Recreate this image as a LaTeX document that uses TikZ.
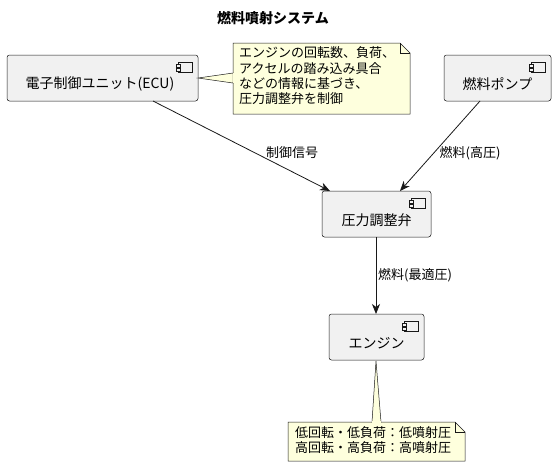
\documentclass[tikz,border=0pt]{standalone}
\usepackage{fontspec}
\setmainfont{Noto Sans CJK JP}
\usetikzlibrary{arrows.meta}
\definecolor{compfill}{HTML}{F1F1F1}
\definecolor{linec}{HTML}{181818}
\definecolor{notefill}{HTML}{FEFFDD}
\tikzset{
  comp/.style={draw=linec, fill=compfill, rounded corners=2.5pt, line width=0.5pt},
  ctext/.style={font=\fontsize{14}{16}\selectfont, text=black, inner sep=0pt},
  ltext/.style={font=\fontsize{13}{15}\selectfont, text=black, inner sep=0pt},
  notec/.style={draw=linec, fill=notefill, line width=0.5pt},
  ntext/.style={font=\fontsize{13}{15.4}\selectfont, text=black, inner sep=0pt, align=left, anchor=north west},
  conn/.style={draw=linec, line width=0.8pt, -{Stealth[length=10pt,width=8pt,inset=3pt]}},
}
\newcommand{\compicon}[2]{% right x, top y
  \draw[linec, fill=compfill, line width=0.5pt] (#1-20,#2+7) rectangle (#1-6,#2+17);
  \draw[linec, fill=compfill, line width=0.5pt] (#1-22,#2+9) rectangle (#1-18,#2+12);
  \draw[linec, fill=compfill, line width=0.5pt] (#1-22,#2+13) rectangle (#1-18,#2+16);
}
\begin{document}
\begin{tikzpicture}[x=1pt,y=-1pt]
\useasboundingbox (0,0) rectangle (559,467);
% title
\node[font=\fontsize{14}{16}\selectfont\bfseries, inner sep=0pt] (title) at (273,18) {燃料噴射システム};
% components
\draw[comp] (7,55) rectangle (198,101);
\compicon{198}{55}
\node[ctext] (ecu) at (100,84) {電子制御ユニット(ECU)};
\coordinate (ecuB) at (153,101);
\coordinate (ecuR) at (198,78);

\draw[comp] (444,55) rectangle (551,101);
\compicon{551}{55}
\node[ctext] (pump) at (497.5,84) {燃料ポンプ};
\coordinate (pumpB) at (480,101);

\draw[comp] (322,191) rectangle (431,237);
\compicon{431}{191}
\node[ctext] (valve) at (376.5,220) {圧力調整弁};
\coordinate (valveL) at (330,191);
\coordinate (valveR) at (400,191);
\coordinate (valveB) at (376,237);

\draw[comp] (329,314) rectangle (424,360);
\compicon{424}{314}
\node[ctext] (engine) at (376.5,343) {エンジン};
\coordinate (engT) at (376,314);
\coordinate (engB) at (376,361);

% note 1
\draw[notec] (233,43) -- (400,43) -- (410,53) -- (410,114) -- (233,114) -- cycle;
\draw[linec, line width=0.5pt] (400,43) -- (400,53) -- (410,53);
\draw[notec] (ecuR) -- (233,73) -- (233,83) -- cycle;
\fill[notefill] (233.3,73.3) rectangle (234,82.7);
\node[ntext] (note1) at (239,46.5) {エンジンの回転数、負荷、\\アクセルの踏み込み具合\\などの情報に基づき、\\圧力調整弁を制御};

% note 2
\draw[notec] (288,422) -- (455,422) -- (465,432) -- (465,461) -- (288,461) -- cycle;
\draw[linec, line width=0.5pt] (455,422) -- (455,432) -- (465,432);
\draw[notec] (engB) -- (372,422) -- (381,422) -- cycle;
\fill[notefill] (372.3,421) rectangle (380.7,422.7);
\node[ntext] (note2) at (295,426) {低回転・低負荷：低噴射圧\\高回転・高負荷：高噴射圧};

% connectors
\draw[conn] (ecuB) -- (valveL);
\node[ltext] (l1) at (292,153) {制御信号};
\draw[conn] (pumpB) -- (valveR);
\node[ltext] (l2) at (470,153) {燃料(高圧)};
\draw[conn] (valveB) -- (engT);
\node[ltext] (l3) at (415,275) {燃料(最適圧)};
\end{tikzpicture}
\end{document}
